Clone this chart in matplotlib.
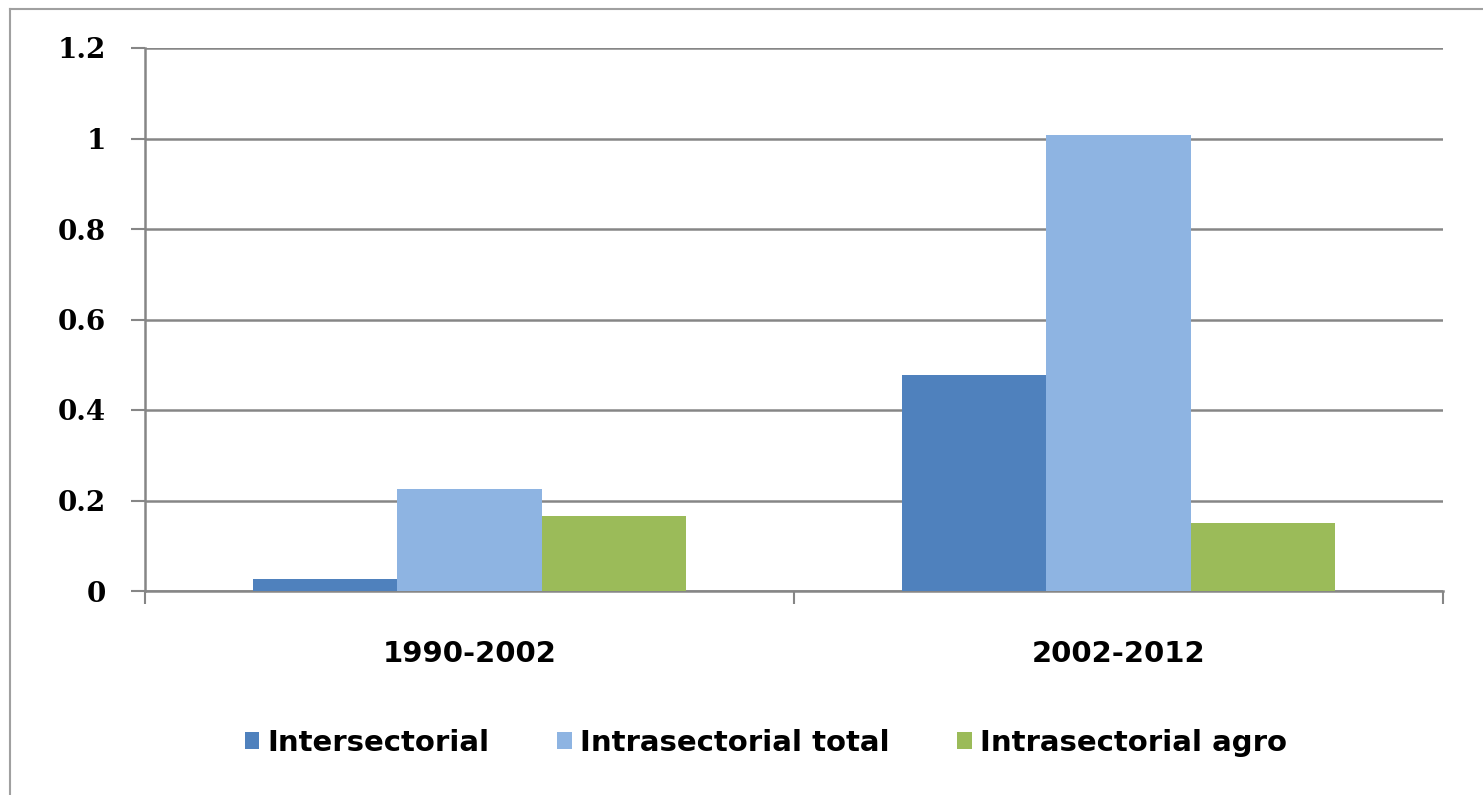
import matplotlib
matplotlib.use("Agg")
import matplotlib.pyplot as plt
import numpy as np
from matplotlib.patches import Patch
from matplotlib.lines import Line2D

categories = ["1990-2002", "2002-2012"]
series_names = ["Intersectorial", "Intrasectorial total", "Intrasectorial agro"]
intersectorial = [0.026, 0.477]
intrasectorial_total = [0.225, 1.008]
intrasectorial_agro = [0.166, 0.150]
colors = ["#4F81BD", "#8EB4E2", "#9BBB59"]
yticks = [0, 0.2, 0.4, 0.6, 0.8, 1.0, 1.2]
ytick_labels = ["0", "0.2", "0.4", "0.6", "0.8", "1", "1.2"]

W, H = 1483, 795
fig = plt.figure(figsize=(W / 100, H / 100), dpi=100)
fig.patch.set_facecolor("white")

# outer chart border (left and top visible)
fig.add_artist(Line2D([10 / W, 10 / W], [0, 1 - 9 / H], color="#a0a0a0", lw=1.5))
fig.add_artist(Line2D([10 / W, 1], [1 - 9 / H, 1 - 9 / H], color="#a0a0a0", lw=1.5))

ax = fig.add_axes([145 / W, (H - 591) / H, (1443 - 145) / W, (591 - 48) / H])

x = np.arange(len(categories))
bw = 0.222
data = [intersectorial, intrasectorial_total, intrasectorial_agro]
for i, (vals, c) in enumerate(zip(data, colors)):
    ax.bar(x + (i - 1) * bw, vals, width=bw, color=c, zorder=3, linewidth=0)

ax.set_xlim(-0.5, len(categories) - 0.5)
ax.set_ylim(0, 1.2)
ax.set_yticks(yticks)
ax.set_yticklabels(ytick_labels, fontfamily="DejaVu Serif", fontweight="bold", fontsize=20)
ax.tick_params(axis="y", length=10, width=1.5, color="#868686", pad=18)
ax.yaxis.grid(True, color="#868686", lw=1.8, zorder=0)

ax.set_xticks(np.arange(-0.5, len(categories)), minor=False)
ax.set_xticklabels([])
ax.tick_params(axis="x", which="major", length=9, width=1.5, color="#868686")
ax.set_xticks(x, minor=True)
ax.set_xticklabels(categories, minor=True, fontfamily="DejaVu Sans", fontweight="bold", fontsize=21)
ax.tick_params(axis="x", which="minor", length=0, pad=35)

for s in ["top", "right"]:
    ax.spines[s].set_visible(False)
for s in ["left", "bottom"]:
    ax.spines[s].set_color("#868686")
    ax.spines[s].set_linewidth(1.8)
ax.set_axisbelow(True)

handles = [Patch(facecolor=c, edgecolor="none") for c in colors]
fig.legend(handles, series_names, loc="center", bbox_to_anchor=(766 / W, 1 - 743 / H),
           ncol=3, frameon=False, prop={"family": "DejaVu Sans", "weight": "bold", "size": 21},
           handlelength=0.5, handleheight=0.55, handletextpad=0.3, columnspacing=2.3)

fig.savefig("out.png", dpi=100)
